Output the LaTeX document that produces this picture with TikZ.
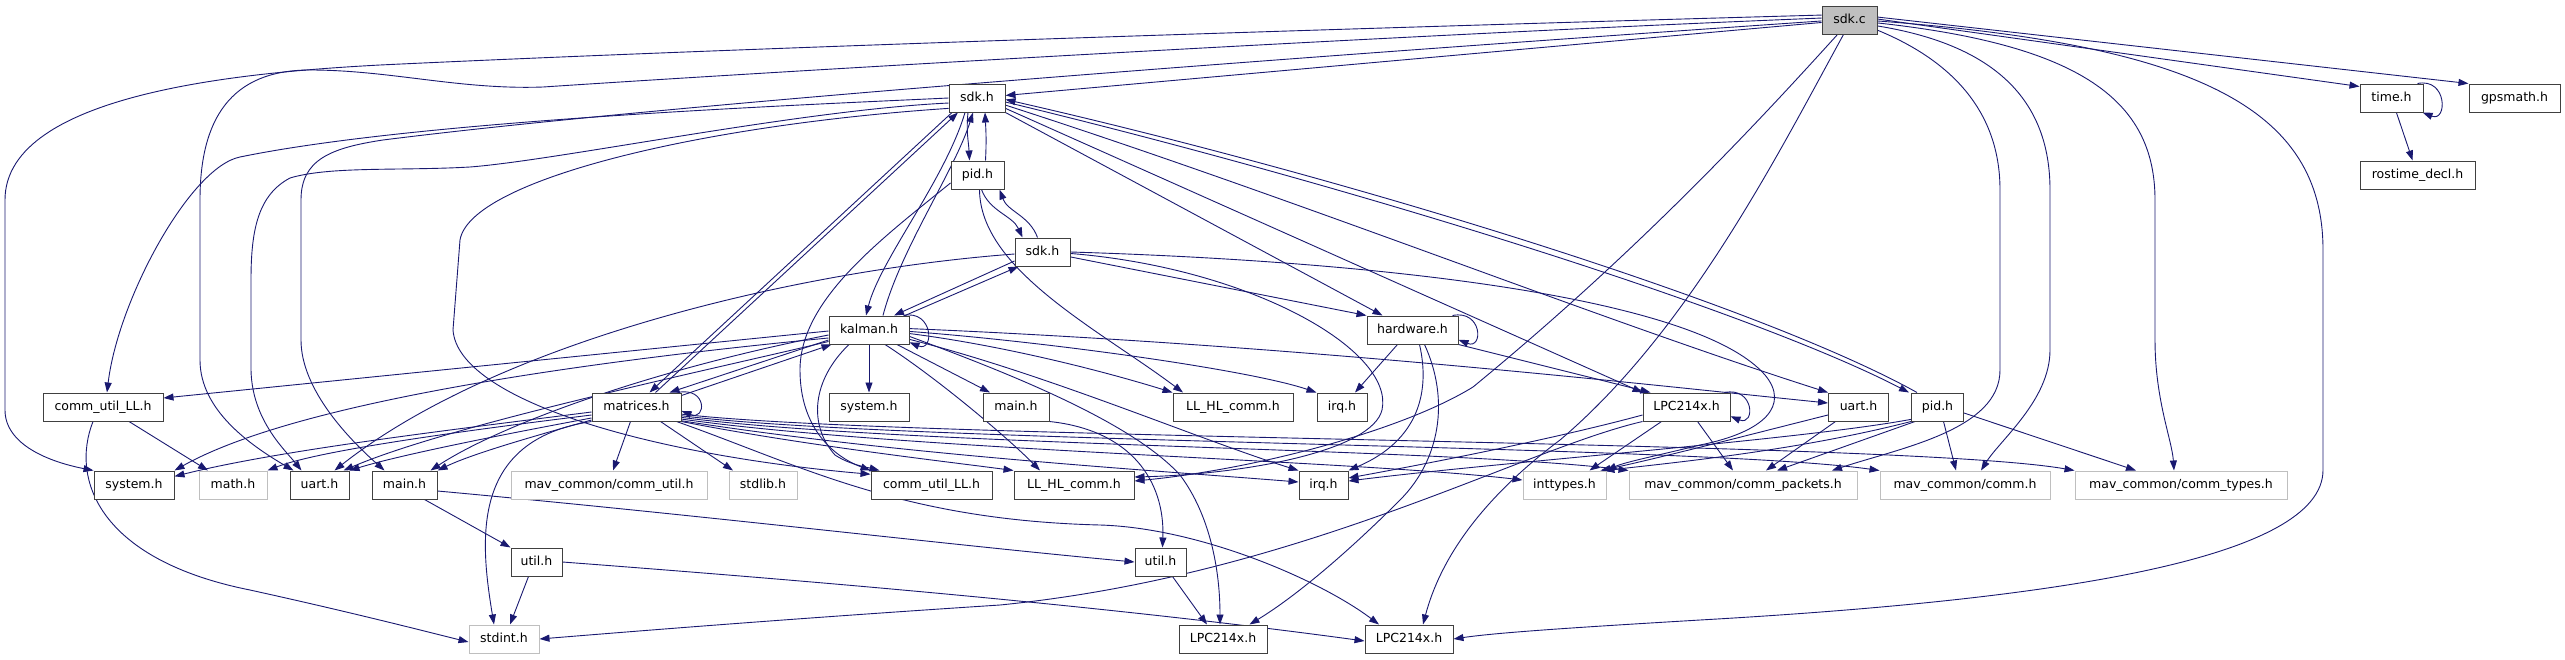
\documentclass[tikz,border=0pt]{standalone}
\usepackage{fontspec}
\newfontfamily\dv{DejaVu Sans}
\usetikzlibrary{arrows.meta}
\definecolor{edgec}{HTML}{191970}
\definecolor{gline}{HTML}{BFBFBF}
\definecolor{sfill}{HTML}{BFBFBF}
\pgfdeclarelayer{bg}
\pgfsetlayers{bg,main}
\tikzset{
  nbox/.style={draw=black!75, line width=1pt, fill=white, minimum height=28pt, inner sep=0pt,
    text height=9pt, text depth=2.7pt, font=\dv\fontsize{12.5}{15}\selectfont},
  gbox/.style={nbox, draw=gline},
  sbox/.style={nbox, fill=sfill},
  edg/.style={draw=edgec, line width=0.9pt, -{Triangle[length=10pt,width=7pt]}}
}
\begin{document}
\begin{tikzpicture}[x=1pt,y=-1pt]
\useasboundingbox (0,0) rectangle (2565,659);
% nodes
\node[sbox, minimum width=55pt] (S) at (1849.5,20) {sdk.c};
\node[nbox, minimum width=56pt] (sdkA) at (977,98) {sdk.h};
\node[nbox, minimum width=63pt] (time) at (2391.5,98) {time.h};
\node[nbox, minimum width=91pt] (gps) at (2514.5,98) {gpsmath.h};
\node[nbox, minimum width=53pt] (pidA) at (977.5,175) {pid.h};
\node[nbox, minimum width=115pt] (rost) at (2417.5,175) {rostime\_decl.h};
\node[nbox, minimum width=55pt] (sdkB) at (1042.5,252) {sdk.h};
\node[nbox, minimum width=80pt] (kal) at (869,330) {kalman.h};
\node[nbox, minimum width=91pt] (hw) at (1412.5,330) {hardware.h};
\node[nbox, minimum width=120pt] (cuA) at (103,407) {comm\_util\_LL.h};
\node[nbox, minimum width=89pt] (mat) at (636.5,407) {matrices.h};
\node[nbox, minimum width=80pt] (sysB) at (869,407) {system.h};
\node[nbox, minimum width=66pt] (mainB) at (1016,407) {main.h};
\node[nbox, minimum width=120pt] (llA) at (1233,407) {LL\_HL\_comm.h};
\node[nbox, minimum width=50pt] (irqA) at (1342,407) {irq.h};
\node[nbox, minimum width=87pt] (lpcA) at (1686.5,407) {LPC214x.h};
\node[nbox, minimum width=60pt] (uartB) at (1858.5,407) {uart.h};
\node[nbox, minimum width=52pt] (pidB) at (1937.5,407) {pid.h};
\node[nbox, minimum width=80pt] (sysA) at (134,485) {system.h};
\node[gbox, minimum width=68pt] (math) at (233,485) {math.h};
\node[nbox, minimum width=59pt] (uartA) at (319.5,485) {uart.h};
\node[nbox, minimum width=65pt] (mainA) at (404.5,485) {main.h};
\node[gbox, minimum width=196pt] (cutil) at (609,485) {mav\_common/comm\_util.h};
\node[gbox, minimum width=68pt] (stdlib) at (763,485) {stdlib.h};
\node[nbox, minimum width=121pt] (cuB) at (931.5,485) {comm\_util\_LL.h};
\node[nbox, minimum width=120pt] (llB) at (1074,485) {LL\_HL\_comm.h};
\node[nbox, minimum width=49pt] (irqB) at (1323.5,485) {irq.h};
\node[gbox, minimum width=83pt] (intt) at (1564.5,485) {inttypes.h};
\node[gbox, minimum width=228pt] (pack) at (1743,485) {mav\_common/comm\_packets.h};
\node[gbox, minimum width=170pt] (comm) at (1965,485) {mav\_common/comm.h};
\node[gbox, minimum width=212pt] (types) at (2181,485) {mav\_common/comm\_types.h};
\node[nbox, minimum width=51pt] (utilA) at (536.5,562) {util.h};
\node[nbox, minimum width=51pt] (utilB) at (1160.5,562) {util.h};
\node[gbox, minimum width=70pt] (stdint) at (504,639) {stdint.h};
\node[nbox, minimum width=88pt] (lpcB) at (1223,639) {LPC214x.h};
\node[nbox, minimum width=88pt] (lpcC) at (1409,639) {LPC214x.h};

\begin{pgfonlayer}{bg}
% ---- sdk.c
\draw[edg] (S) -- (sdkA);
\draw[edg] (S.2) -- ([yshift=-3pt]time.north west);
\draw[edg] (S.6) -- (gps.north west);
\draw[edg] (S.170) .. controls (1500,24) and (800,45) .. (380,65) .. controls (250,72) and (5,92) .. (5,200) -- (5,410) .. controls (5,445) and (50,462) .. (sysA.north west);
\draw[edg] (S.176) .. controls (1400,35) and (800,70) .. (543,87) .. controls (460,90) and (390,70) .. (310,70) .. controls (230,70) and (200,120) .. (200,200) -- (200,360) .. controls (200,410) and (250,445) .. ([xshift=-26pt]uartA.north);
\draw[edg] (S.182) .. controls (1400,50) and (700,100) .. (383,140) .. controls (330,148) and (301,160) .. (301,200) -- (301,340) .. controls (301,390) and (350,440) .. ([xshift=-20pt]mainA.north);
\draw[edg] ([xshift=-12pt]S.south) .. controls (1760,120) and (1640,250) .. (1473,387) .. controls (1400,432) and (1250,470) .. ([yshift=4pt]llB.east);
\draw[edg] ([xshift=-6pt]S.south) .. controls (1780,150) and (1690,330) .. (1560,440) .. controls (1480,500) and (1440,560) .. ([xshift=14pt]lpcC.north);
\draw[edg] (S.-20) .. controls (1950,60) and (2000,110) .. (2000,190) -- (2000,370) .. controls (2000,430) and (1900,448) .. ([xshift=89pt]pack.north);
\draw[edg] (S.-12) .. controls (1995,45) and (2050,100) .. (2050,190) -- (2050,350) .. controls (2050,400) and (2000,440) .. ([xshift=16pt]comm.north);
\draw[edg] (S.-6) .. controls (2080,45) and (2155,100) .. (2155,200) -- (2155,340) .. controls (2155,400) and (2172,440) .. ([xshift=-7pt]types.north);
\draw[edg] (S.-2) .. controls (2200,45) and (2323,110) .. (2323,250) -- (2323,470) .. controls (2323,560) and (2050,600) .. (1700,620) .. controls (1600,626) and (1500,632) .. (lpcC.east);
% ---- time.h
\draw[edg] ([xshift=-6pt]time.north east) .. controls +(30,-6) and +(25,10) .. (time.-25);
\draw[edg] (time) -- (rost);
% ---- sdk.h (A)
\draw[edg] ([xshift=-9pt]sdkA.south) .. controls +(-2,20) and +(-1,-20) .. ([xshift=-8pt]pidA.north);
\draw[edg] ([xshift=8pt]pidA.north) .. controls +(1,-20) and +(1,20) .. ([xshift=8pt]sdkA.south);
\draw[edg] ([xshift=-12pt]sdkA.south) .. controls (945,180) and (880,260) .. ([xshift=-3pt]kal.north);
\draw[edg] ([xshift=14pt]kal.north) .. controls (900,250) and (955,170) .. ([xshift=-4pt]sdkA.south);
\draw[edg] ([xshift=-25pt]sdkA.south) -- ([xshift=13pt]mat.north);
\draw[edg] ([xshift=19pt]mat.north) -- ([xshift=-19pt]sdkA.south);
\draw[edg] (sdkA.west) .. controls (800,105) and (420,120) .. (240,157) .. controls (190,167) and (118,300) .. ([xshift=4pt]cuA.north);
\draw[edg] (sdkA.190) .. controls (800,110) and (560,160) .. (470,167) .. controls (400,171) and (330,166) .. (290,178) .. controls (258,195) and (251,230) .. (251,280) -- (251,370) .. controls (252,420) and (285,450) .. ([xshift=-18pt]uartA.north);
\draw[edg] (sdkA.200) .. controls (700,125) and (470,180) .. (460,240) -- (453,330) .. controls (458,400) and (650,455) .. (cuB.170);
\draw[edg] (sdkA.south east) -- ([xshift=-30pt]hw.north);
\draw[edg] (sdkA.-20) -- (lpcA.north west);
\draw[edg] (sdkA.-14) .. controls (1300,200) and (1600,320) .. (uartB.north west);
\draw[edg] (sdkA.-8) .. controls (1350,185) and (1750,310) .. ([xshift=-2pt]pidB.north west);
\draw[edg] ([xshift=6pt]pidB.north west) .. controls (1760,305) and (1350,178) .. (sdkA.-3);
% ---- sdk.h (B)
\draw[edg] ([xshift=4pt]pidA.south) .. controls +(8,22) and +(-10,-22) .. ([xshift=-20pt]sdkB.north);
\draw[edg] ([xshift=-5pt]sdkB.north) .. controls +(-8,-22) and +(8,22) .. ([xshift=22pt]pidA.south);
\draw[edg] ([yshift=-9pt]sdkB.west) -- ([xshift=25pt]kal.north);
\draw[edg] ([xshift=36pt]kal.north) -- ([xshift=4pt]sdkB.south west);
\draw[edg] ([yshift=-2pt]sdkB.west) .. controls (800,270) and (500,340) .. ([xshift=15pt]uartA.north);
\draw[edg] (sdkB.-10) -- (hw.north west);
\draw[edg] (sdkB.-3) .. controls (1250,268) and (1395,350) .. (1382,410) .. controls (1372,450) and (1250,474) .. ([yshift=8pt]llB.east);
\draw[edg] (sdkB.east) .. controls (1400,262) and (1700,300) .. (1765,375) .. controls (1790,405) and (1765,432) .. (1700,445) .. controls (1660,455) and (1625,462) .. (intt.north east);
% ---- pid.h (A)
\draw[edg] ([xshift=2pt]pidA.south) .. controls (980,270) and (1100,330) .. ([xshift=-50pt]llA.north);
\draw[edg] ([yshift=-8pt]pidA.west) .. controls (880,240) and (800,300) .. (800,370) .. controls (800,425) and (830,455) .. (cuB.north west);
% ---- kalman.h
\draw[edg] ([xshift=-6pt]kal.north east) .. controls +(30,-6) and +(25,10) .. (kal.-17);
\draw[edg] (kal) -- (sysB);
\draw[edg] ([xshift=28pt]kal.south) -- ([xshift=-26pt]mainB.north);
\draw[edg] ([xshift=16pt]kal.south) .. controls (940,380) and (1010,440) .. ([xshift=-34pt]llB.north);
\draw[edg] (kal.2) .. controls (1300,345) and (1650,385) .. ([yshift=4pt]uartB.west);
\draw[edg] (kal.-2) .. controls (1050,342) and (1250,370) .. (irqA.north west);
\draw[edg] (kal.-5) .. controls (1000,345) and (1100,370) .. (llA.north west);
\draw[edg] (kal.-9) .. controls (1000,370) and (1130,420) .. (1180,475) .. controls (1210,515) and (1220,570) .. ([xshift=-3pt]lpcB.north);
\draw[edg] (kal.-13) .. controls (1050,375) and (1200,440) .. (irqB.north west);
\draw[edg] ([yshift=-1pt]kal.west) -- ([yshift=9pt]cuA.east);
\draw[edg] ([yshift=-8pt]kal.west) .. controls (600,360) and (300,400) .. (sysA.north east);
\draw[edg] ([yshift=-5pt]kal.west) .. controls (650,370) and (500,425) .. ([xshift=-7pt]mainA.north east);
\draw[edg] ([yshift=3pt]kal.south west) .. controls (700,372) and (450,425) .. ([xshift=-6pt]uartA.north east);
\draw[edg] ([yshift=-10pt]kal.west) -- ([xshift=33pt]mat.north);
\draw[edg] ([xshift=-20pt]kal.south) .. controls (812,380) and (808,425) .. (835,455) .. controls (850,465) and (870,468) .. ([xshift=-52pt]cuB.north);
% ---- matrices.h
\draw[edg] ([xshift=-4pt]mat.north east) .. controls +(30,-6) and +(25,10) .. (mat.-5);
\draw[edg] ([yshift=-3pt]mat.north east) -- ([xshift=3pt]kal.south west);
\draw[edg] ([yshift=-5pt]mat.west) .. controls (450,430) and (280,450) .. (sysA.12);
\draw[edg] ([yshift=-8pt]mat.west) .. controls (470,430) and (320,450) .. (math.north east);
\draw[edg] ([yshift=-11pt]mat.west) .. controls (500,435) and (400,455) .. (uartA.north east);
\draw[edg] ([yshift=-13pt]mat.west) .. controls (520,440) and (470,455) .. (mainA.north east);
\draw[edg] (mat.south west) .. controls (470,440) and (480,540) .. ([xshift=-10pt]stdint.north);
\draw[edg] ([xshift=-6pt]mat.south) -- ([xshift=4pt]cutil.north);
\draw[edg] ([xshift=24pt]mat.south) -- ([xshift=-30pt]stdlib.north);
\draw[edg] (mat.-9) .. controls (900,440) and (1900,440) .. (types.north west);
\draw[edg] (mat.-11) .. controls (900,443) and (1700,445) .. (comm.north west);
\draw[edg] (mat.-13) .. controls (900,446) and (1450,448) .. (pack.north west);
\draw[edg] (mat.-15) .. controls (900,450) and (1350,460) .. ([yshift=5pt]intt.west);
\draw[edg] (mat.-17) .. controls (900,455) and (1150,470) .. ([yshift=3pt]irqB.west);
\draw[edg] (mat.south east) .. controls (800,445) and (950,462) .. (llB.north west);
\draw[edg] ([xshift=-5pt]mat.south east) .. controls (800,465) and (900,520) .. (1100,525) .. controls (1200,528) and (1320,580) .. ([xshift=-30pt]lpcC.north);
% ---- hardware.h
\draw[edg] ([xshift=-6pt]hw.north east) .. controls +(30,-6) and +(25,10) .. (hw.-12);
\draw[edg] ([xshift=-15pt]hw.south) -- ([xshift=13pt]irqA.north);
\draw[edg] ([xshift=7pt]hw.south) .. controls (1430,390) and (1420,440) .. (irqB.north east);
\draw[edg] ([xshift=12pt]hw.south) .. controls (1450,400) and (1440,460) .. (1400,500) .. controls (1340,560) and (1290,600) .. ([xshift=-18pt]lpcB.north east);
\draw[edg] (hw.south east) -- ([xshift=-36pt]lpcA.north);
% ---- LPC214x.h (A)
\draw[edg] ([xshift=-6pt]lpcA.north east) .. controls +(30,-6) and +(25,10) .. (lpcA.-12);
\draw[edg] ([xshift=-25pt]lpcA.south) -- ([xshift=25pt]intt.north);
\draw[edg] ([xshift=11pt]lpcA.south) -- ([xshift=-10pt]pack.north);
\draw[edg] ([yshift=-8pt]lpcA.west) .. controls (1550,440) and (1420,465) .. ([yshift=7pt]irqB.east);
\draw[edg] (lpcA.south west) .. controls (1520,450) and (1300,575) .. (1000,605) .. controls (800,618) and (650,630) .. (stdint.east);
% ---- uart.h (B), pid.h (B)
\draw[edg] ([xshift=-23pt]uartB.south) -- ([xshift=23pt]pack.north);
\draw[edg] ([yshift=-8pt]uartB.west) .. controls (1760,432) and (1660,458) .. ([xshift=-6pt]intt.north east);
\draw[edg] (pidB.205) .. controls (1800,440) and (1500,462) .. ([yshift=4pt]irqB.east);
\draw[edg] (pidB.south west) .. controls (1800,450) and (1680,462) .. ([xshift=-2pt]intt.north east);
\draw[edg] ([xshift=4pt]pidB.south west) -- ([xshift=34pt]pack.north);
\draw[edg] ([xshift=6pt]pidB.south) -- ([xshift=-9pt]comm.north);
\draw[edg] ([yshift=-6pt]pidB.east) -- ([xshift=-45pt]types.north);
% ---- main.h, util.h, comm_util_LL.h
\draw[edg] (mainB.south east) .. controls (1130,430) and (1165,480) .. ([xshift=2pt]utilB.north);
\draw[edg] ([xshift=20pt]mainA.south) -- (utilA.north west);
\draw[edg] ([yshift=-6pt]mainA.east) .. controls (700,515) and (950,545) .. (utilB.west);
\draw[edg] ([xshift=-8pt]utilA.south) -- ([xshift=6pt]stdint.north);
\draw[edg] (utilA.east) .. controls (800,580) and (1100,605) .. ([yshift=-2pt]lpcC.west);
\draw[edg] ([xshift=12pt]utilB.south) -- ([xshift=-16pt]lpcB.north);
\draw[edg] ([xshift=26pt]cuA.south) -- ([xshift=-25pt]math.north);
\draw[edg] ([xshift=-10pt]cuA.south) .. controls (70,480) and (100,560) .. (250,590) .. controls (350,612) and (420,630) .. ([yshift=-3pt]stdint.west);
\end{pgfonlayer}
\end{tikzpicture}
\end{document}
